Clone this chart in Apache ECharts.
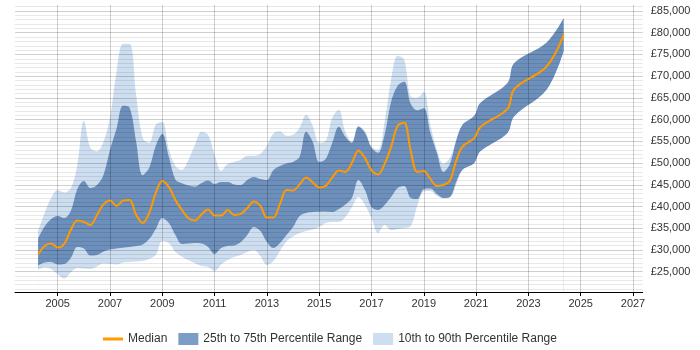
<!DOCTYPE html>
<html>
<head>
<meta charset="utf-8">
<script src="https://cdn.jsdelivr.net/npm/echarts@6/dist/echarts.min.js"></script>
<style>
html,body{margin:0;padding:0;background:#fff;}
#chart{width:700px;height:350px;}
</style>
</head>
<body>
<div id="chart"></div>
<script>
// ---- Data ----
const years = [
  2004.25, 2004.5, 2004.75, 2005.0, 2005.25, 2005.5, 2005.75, 2006.0, 2006.25, 2006.5,
  2006.75, 2007.0, 2007.25, 2007.5, 2007.75, 2008.0, 2008.25, 2008.5, 2008.75, 2009.0,
  2009.25, 2009.5, 2009.75, 2010.0, 2010.25, 2010.5, 2010.75, 2011.0, 2011.25, 2011.5,
  2011.75, 2012.0, 2012.25, 2012.5, 2012.75, 2013.0, 2013.25, 2013.5, 2013.75, 2014.0,
  2014.25, 2014.5, 2014.75, 2015.0, 2015.25, 2015.5, 2015.75, 2016.0, 2016.25, 2016.5,
  2016.75, 2017.0, 2017.25, 2017.5, 2017.75, 2018.0, 2018.25, 2018.5, 2018.75, 2019.0,
  2019.25, 2019.5, 2019.75, 2020.0, 2020.25,
  2020.48, 2020.93, 2021.16, 2022.2, 2022.46, 2023.7, 2024.35
];
const median = [
  28960, 30920, 31500, 30580, 31380, 34610, 36800, 36450, 35760, 38060,
  40480, 41400, 40140, 41400, 41520, 38060, 36220, 38520, 43130, 45900,
  44510, 41520, 39220, 37300, 36800, 38180, 39330, 37950, 37950, 39220,
  38060, 38290, 39680, 41170, 40140, 37490, 37490, 40600, 43820, 43710,
  45090, 46700, 45550, 44400, 44750, 46700, 48270, 47970, 50040, 52920,
  51190, 48320, 47400, 49820, 53730, 58570, 59260, 52810, 47970, 48200,
  46360, 44750, 44980, 46010, 50740,
  53800, 55730, 58270, 62490, 67030, 72230, 79540
];
const p75 = [
  32650, 35410, 37140, 37830, 37370, 38990, 44050, 45900, 44280, 44980,
  47280, 53040, 57880, 63180, 62720, 54890, 47200, 48900, 53960, 56730,
  51430, 46240, 45370, 44860, 44580, 45440, 46010, 45210, 45670, 45670,
  45090, 44980, 46130, 46820, 46360, 46130, 48430, 49350, 49930, 50270,
  51430, 57190, 54890, 50270, 50960, 54650, 58340, 56040, 54650, 58340,
  56960, 53500, 52350, 56500, 64100, 67780, 68700, 63640, 62140, 62600,
  56960, 52350, 47970, 49810, 55340,
  58800, 60870, 63800, 68410, 73010, 77760, 83380
];
const p90 = [
  34380, 38520, 41980, 43820, 43250, 44170, 49580, 59720, 53500, 52690,
  54880, 60410, 71010, 77460, 77460, 65710, 55800, 54650, 58800, 59490,
  53040, 49350, 48430, 50740, 54190, 57190, 56500, 51890, 48200, 49810,
  50270, 50740, 51660, 51660, 52120, 53960, 56840, 57300, 56270, 56500,
  58110, 61100, 58570, 54650, 55110, 60410, 62260, 57190, 54880, 58600,
  57300, 53730, 53040, 59490, 69170, 74700, 73780, 65370, 65020, 66400,
  58800, 53040, 49810, 51200, 55570,
  58800, 60870, 63800, 68410, 73010, 77760, 83380
];
const p25 = [
  26430, 27120, 27230, 26660, 26770, 28160, 30690, 30350, 28730, 28850,
  29650, 30110, 30350, 30530, 30690, 30920, 31270, 32530, 34840, 37370,
  36220, 33460, 31380, 31500, 31610, 31500, 30690, 29080, 30460, 30920,
  31040, 31840, 33460, 35300, 34380, 31840, 30460, 31610, 33460, 35300,
  37830, 38520, 38750, 38820, 38870, 38750, 39450, 40480, 41980, 46130,
  43820, 39910, 39220, 40370, 42210, 44280, 44750, 41980, 41750, 44050,
  44170, 42900, 41980, 42210, 45900,
  48430, 49980, 52650, 56890, 60710, 66860, 75690
];
const p10 = [
  25510, 25970, 25620, 24350, 23430, 24820, 25850, 25740, 25620, 26200,
  26890, 26770, 26660, 27120, 27230, 27350, 27470, 27930, 28850, 32070,
  31610, 29540, 28460, 27700, 26940, 26310, 26080, 25160, 26660, 27700,
  28390, 28850, 29540, 30000, 28620, 26540, 27470, 29770, 31960, 33110,
  33920, 34380, 34720, 35300, 36220, 36450, 36450, 37600, 39910, 42210,
  40370, 37370, 33920, 35760, 34610, 34840, 35070, 35530, 40140, 43480,
  43590, 42440, 41900, 42100, 45210,
  48430, 49980, 52650, 56890, 60710, 66860, 75690
];
const xTicks = [2005, 2007, 2009, 2011, 2013, 2015, 2017, 2019, 2021, 2023, 2025, 2027];
const yTicks = [25000, 30000, 35000, 40000, 45000, 50000, 55000, 60000, 65000, 70000, 75000, 80000, 85000];
const yMinorTicks = [];
for (let v = 21000; v <= 86000; v += 1000) if (v % 5000 !== 0) yMinorTicks.push(v);
const seriesNames = ['Median', '25th to 75th Percentile Range', '10th to 90th Percentile Range'];

// ---- Build ----
const LIGHT = 'rgb(205,222,240)';
const DARK = 'rgb(108,143,187)';
const LEGEND_LIGHT = 'rgb(205,222,240)';
const LEGEND_DARK = 'rgb(124,157,197)';
const ORANGE = '#ff9900';
const pair = (arr) => arr.map((v, i) => [years[i], v]);
const fmtMoney = (v) => '£' + String(v).replace(/\B(?=(\d{3})+(?!\d))/g, ',');

const SMOOTH = 0.35;
// Layered areas filled down to the axis minimum: p90 (light), p75 (dark), p25 (light), p10 (white)
const layer = (name, arr, fill, z) => ({
  name: name, type: 'line', data: pair(arr), smooth: SMOOTH, showSymbol: false, symbol: 'none',
  lineStyle: { width: 0, opacity: 0 }, silent: true, z: z, color: fill,
  areaStyle: { color: fill, opacity: 1, origin: 'start' }
});
const gridLine = (vals, key, color) => ({
  type: 'line', data: [], silent: true, z: 5,
  markLine: {
    silent: true, symbol: ['none', 'none'], z: 5, animation: false,
    label: { show: false },
    lineStyle: { color: color, width: 1, type: 'solid' },
    emphasis: { disabled: true },
    data: vals.map(v => ({ [key]: v }))
  }
});

const chart = echarts.init(document.getElementById('chart'), null, { renderer: 'canvas' });
chart.setOption({
  animation: false,
  textStyle: { fontFamily: 'Liberation Sans, Arial, sans-serif' },
  grid: { left: 15, right: 57.3, top: 5, bottom: 58 },
  xAxis: {
    type: 'value', min: 2003.367, max: 2027.371, z: 10,
    axisLine: { show: true, onZero: false, lineStyle: { color: '#000', width: 1 } },
    axisTick: { show: true, length: 4, customValues: xTicks, lineStyle: { color: '#000' } },
    axisLabel: { customValues: xTicks, margin: 6, fontSize: 11, color: '#333', formatter: v => String(v) },
    splitLine: { show: false }
  },
  yAxis: {
    type: 'value', position: 'right', min: 20330, max: 86380,
    axisLine: { show: false }, axisTick: { show: false },
    axisLabel: { customValues: yTicks, margin: 8, fontSize: 11, color: '#333', formatter: v => fmtMoney(v) },
    splitLine: { show: false }
  },
  legend: {
    left: 98, top: 328, itemWidth: 20, itemHeight: 12, itemGap: 11,
    textStyle: { fontSize: 12, color: '#333' },
    selectedMode: false,
    data: [
      { name: seriesNames[0], icon: 'path://M0,0L20,0L20,3L0,3Z', itemStyle: { color: ORANGE } },
      { name: seriesNames[1], icon: 'rect', itemStyle: { color: LEGEND_DARK } },
      { name: seriesNames[2], icon: 'rect', itemStyle: { color: LEGEND_LIGHT } }
    ]
  },
  series: [
    layer(seriesNames[2], p90, LIGHT, 2),
    layer(seriesNames[1], p75, DARK, 2),
    layer(seriesNames[2], p25, LIGHT, 2),
    layer('p10', p10, '#ffffff', 2),
    gridLine(yMinorTicks, 'yAxis', 'rgba(0,0,0,0.09)'),
    gridLine(yTicks, 'yAxis', 'rgba(0,0,0,0.19)'),
    gridLine(xTicks, 'xAxis', 'rgba(0,0,0,0.19)'),
    {
      name: seriesNames[0], type: 'line', data: pair(median), smooth: SMOOTH,
      showSymbol: false, symbol: 'none', z: 8, color: ORANGE,
      lineStyle: { color: ORANGE, width: 2 }
    }
  ]
});
</script>
</body>
</html>
